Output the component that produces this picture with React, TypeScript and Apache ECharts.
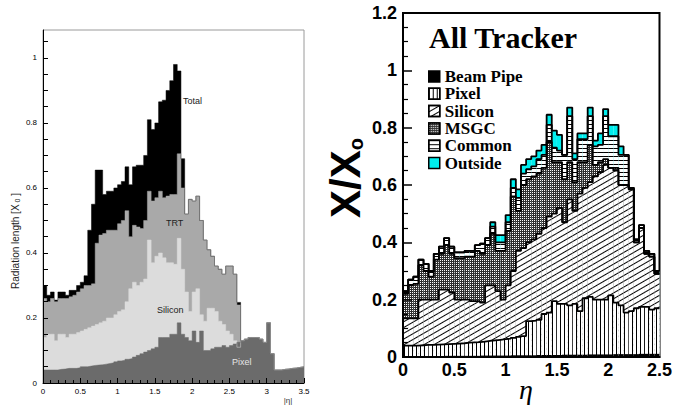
import React, { useEffect, useRef } from "react";
import * as echarts from "echarts";

// ---------------- Left panel, 70 bins of 0.05 in |eta| from 0 to 3.5 (cumulative tops)
const leftPixel = [
  0.040, 0.040, 0.040, 0.040, 0.042, 0.043, 0.045, 0.045, 0.045, 0.047,
  0.050, 0.050, 0.052, 0.054, 0.055, 0.056, 0.058, 0.060, 0.062, 0.065,
  0.068, 0.070, 0.073, 0.075, 0.080, 0.085, 0.090, 0.095, 0.100, 0.105,
  0.110, 0.140, 0.140, 0.140, 0.150, 0.150, 0.185, 0.150, 0.140, 0.130,
  0.160, 0.125, 0.160, 0.100, 0.100, 0.105, 0.110, 0.110, 0.115, 0.110,
  0.115, 0.120, 0.125, 0.130, 0.135, 0.140, 0.140, 0.140, 0.135, 0.125,
  0.185, 0.090, 0.040, 0.040, 0.042, 0.043, 0.045, 0.046, 0.048, 0.050,
];
const leftSilicon = [
  0.140, 0.150, 0.150, 0.130, 0.150, 0.150, 0.140, 0.150, 0.150, 0.155,
  0.160, 0.165, 0.170, 0.175, 0.180, 0.185, 0.190, 0.200, 0.200, 0.210,
  0.220, 0.225, 0.250, 0.290, 0.310, 0.300, 0.310, 0.320, 0.440, 0.370,
  0.390, 0.400, 0.385, 0.370, 0.370, 0.365, 0.445, 0.350, 0.280, 0.220,
  0.280, 0.290, 0.210, 0.190, 0.230, 0.230, 0.220, 0.190, 0.180, 0.160,
  0.150, 0.130, 0.110, 0.130, 0.135, 0.140, 0.140, 0.140, 0.135, 0.125,
  0.185, 0.090, 0.040, 0.040, 0.042, 0.043, 0.045, 0.046, 0.048, 0.050,
];
const leftTRT = [
  0.260, 0.250, 0.260, 0.250, 0.260, 0.260, 0.260, 0.265, 0.270, 0.280,
  0.290, 0.300, 0.300, 0.305, 0.430, 0.455, 0.460, 0.470, 0.470, 0.470,
  0.490, 0.500, 0.530, 0.450, 0.485, 0.480, 0.475, 0.500, 0.590, 0.560,
  0.570, 0.590, 0.570, 0.575, 0.580, 0.580, 0.705, 0.600, 0.520, 0.565,
  0.560, 0.575, 0.500, 0.440, 0.410, 0.390, 0.360, 0.350, 0.335, 0.360,
  0.360, 0.335, 0.240, 0.130, 0.135, 0.140, 0.140, 0.140, 0.135, 0.125,
  0.185, 0.090, 0.040, 0.040, 0.042, 0.043, 0.045, 0.046, 0.048, 0.050,
];
const leftTotal = [
  0.300, 0.270, 0.280, 0.255, 0.280, 0.280, 0.270, 0.285, 0.285, 0.300,
  0.310, 0.330, 0.470, 0.550, 0.655, 0.655, 0.580, 0.590, 0.590, 0.600,
  0.610, 0.620, 0.665, 0.610, 0.665, 0.670, 0.670, 0.700, 0.810, 0.780,
  0.800, 0.865, 0.870, 0.900, 0.930, 0.980, 0.960, 0.690, 0.520, 0.565,
  0.560, 0.575, 0.500, 0.440, 0.410, 0.390, 0.360, 0.350, 0.335, 0.360,
  0.360, 0.335, 0.248, 0.130, 0.135, 0.140, 0.140, 0.140, 0.135, 0.125,
  0.185, 0.090, 0.040, 0.040, 0.042, 0.043, 0.045, 0.046, 0.048, 0.050,
];

// ---------------- Right panel, 50 bins of 0.05 in eta from 0 to 2.5 (cumulative tops)
const rPipe = [
  0.003, 0.003, 0.003, 0.003, 0.003, 0.003, 0.003, 0.003, 0.004, 0.004,
  0.004, 0.004, 0.004, 0.004, 0.004, 0.005, 0.005, 0.005, 0.005, 0.005,
  0.005, 0.006, 0.006, 0.006, 0.006, 0.006, 0.007, 0.007, 0.007, 0.007,
  0.007, 0.008, 0.008, 0.008, 0.008, 0.008, 0.009, 0.009, 0.009, 0.009,
  0.009, 0.010, 0.010, 0.010, 0.010, 0.010, 0.011, 0.011, 0.011, 0.011,
];
const rPixel = [
  0.040, 0.040, 0.040, 0.041, 0.042, 0.042, 0.043, 0.044, 0.045, 0.046,
  0.047, 0.048, 0.050, 0.051, 0.052, 0.054, 0.056, 0.058, 0.060, 0.062,
  0.064, 0.067, 0.070, 0.073, 0.125, 0.127, 0.130, 0.150, 0.155, 0.195,
  0.185, 0.185, 0.180, 0.185, 0.160, 0.205, 0.210, 0.200, 0.200, 0.200,
  0.215, 0.190, 0.180, 0.155, 0.160, 0.170, 0.175, 0.175, 0.165, 0.170,
];
const rSilicon = [
  0.135, 0.135, 0.135, 0.200, 0.200, 0.200, 0.200, 0.235, 0.235, 0.225,
  0.200, 0.200, 0.200, 0.195, 0.195, 0.190, 0.250, 0.250, 0.230, 0.200,
  0.250, 0.300, 0.370, 0.380, 0.400, 0.410, 0.430, 0.450, 0.490, 0.500,
  0.520, 0.470, 0.550, 0.510, 0.570, 0.590, 0.610, 0.630, 0.645, 0.670,
  0.660, 0.650, 0.600, 0.600, 0.585, 0.400, 0.450, 0.360, 0.350, 0.290,
];
const rMsgc = [
  0.220, 0.250, 0.255, 0.320, 0.300, 0.280, 0.340, 0.360, 0.390, 0.360,
  0.345, 0.345, 0.350, 0.350, 0.370, 0.360, 0.390, 0.430, 0.370, 0.370,
  0.440, 0.560, 0.510, 0.600, 0.620, 0.630, 0.640, 0.660, 0.750, 0.680,
  0.680, 0.620, 0.680, 0.610, 0.680, 0.680, 0.740, 0.670, 0.680, 0.690,
  0.660, 0.660, 0.600, 0.600, 0.585, 0.400, 0.450, 0.360, 0.350, 0.290,
];
const rCommon = [
  0.230, 0.270, 0.280, 0.340, 0.325, 0.300, 0.360, 0.385, 0.415, 0.385,
  0.365, 0.365, 0.370, 0.370, 0.390, 0.395, 0.415, 0.455, 0.400, 0.400,
  0.470, 0.590, 0.555, 0.640, 0.655, 0.665, 0.690, 0.705, 0.810, 0.730,
  0.720, 0.705, 0.840, 0.690, 0.760, 0.760, 0.840, 0.735, 0.740, 0.840,
  0.770, 0.770, 0.705, 0.705, 0.590, 0.410, 0.460, 0.370, 0.360, 0.300,
];
const rTotal = [
  0.230, 0.270, 0.280, 0.340, 0.325, 0.300, 0.360, 0.385, 0.415, 0.385,
  0.365, 0.365, 0.370, 0.370, 0.390, 0.395, 0.415, 0.470, 0.425, 0.425,
  0.495, 0.620, 0.585, 0.670, 0.690, 0.700, 0.720, 0.740, 0.845, 0.790,
  0.775, 0.705, 0.870, 0.710, 0.780, 0.780, 0.870, 0.755, 0.780, 0.865,
  0.810, 0.810, 0.735, 0.705, 0.590, 0.410, 0.460, 0.370, 0.360, 0.300,
];

const leftTicks = ["0", "0.5", "1", "1.5", "2", "2.5", "3", "3.5"];
const BIN = 0.05;
const leftEdges = leftTotal.map((_, i) => +(i * BIN).toFixed(2));
const rEdges = rTotal.map((_, i) => +(i * BIN).toFixed(2));

const stepData = (edges: number[], vals: number[], end: number) => [
  ...vals.map((v, i) => [edges[i], v]),
  [end, vals[vals.length - 1]],
];

const SERIF = "Liberation Serif";
const SANS = "Liberation Sans";

function buildOption(): any {
  const leftArea = (name: string, data: number[], color: string) => ({
    type: "line",
    name,
    xAxisIndex: 0,
    yAxisIndex: 0,
    step: "end",
    symbol: "none",
    silent: true,
    z: 2,
    lineStyle: { color, width: 0.5 },
    areaStyle: { color, opacity: 1 },
    data: stepData(leftEdges, data, 3.5),
  });
  const rightBar = (name: string, data: number[], color: string, decal?: any) => ({
    type: "bar",
    name,
    xAxisIndex: 1,
    yAxisIndex: 1,
    data,
    barGap: "-100%",
    barCategoryGap: "0%",
    silent: true,
    itemStyle: decal ? { color, decal } : { color },
  });
  const outline = (name: string, vals: number[]) => ({
    type: "line",
    name,
    xAxisIndex: 2,
    yAxisIndex: 1,
    step: "end",
    symbol: "none",
    silent: true,
    z: 4,
    lineStyle: { color: "#000", width: 1.8 },
    data: stepData(rEdges, vals, 2.5),
  });

  const pixelDecal = { symbol: "rect", symbolSize: 1, dashArrayX: [1, 3], dashArrayY: [4, 0], color: "#000" };
  const siliconDecal = { symbol: "rect", symbolSize: 1, dashArrayX: [4, 0], dashArrayY: [1, 3.5], rotation: -Math.PI / 6, color: "#000" };
  const msgcDecal = { symbol: "rect", symbolSize: 1, dashArrayX: [1, 1], dashArrayY: [1, 1], color: "#ffffff" };
  const commonDecal = { symbol: "rect", symbolSize: 1, dashArrayX: [4, 0], dashArrayY: [1, 2.4], color: "#000" };

  const two = (v: number) => Math.abs(v / 0.2 - Math.round(v / 0.2)) < 1e-6;

  return {
    animation: false,
    backgroundColor: "#fff",
    grid: [
      { left: 43, top: 30, width: 261, height: 353, show: true, borderColor: "#9a9a9a", borderWidth: 1 },
      { left: 403, top: 13, width: 258, height: 344, show: true, borderColor: "#000", borderWidth: 2 },
    ],
    xAxis: [
      {
        type: "value", gridIndex: 0, position: "bottom", min: 0, max: 3.5, interval: 0.5, z: 10,
        axisLine: { show: true, onZero: false, lineStyle: { color: "#000", width: 1 } },
        axisTick: { show: true, inside: true, length: 5, lineStyle: { color: "#000" } },
        minorTick: { show: true, splitNumber: 5, length: 3, lineStyle: { color: "#000" } },
        splitLine: { show: false },
        axisLabel: {
          fontFamily: SANS, fontSize: 8, color: "#000", margin: 4,
          formatter: (v: number) => leftTicks[Math.round(v / 0.5)] ?? "",
        },
      },
      { type: "category", gridIndex: 1, data: rEdges.map(String), show: false, boundaryGap: true },
      {
        type: "value", gridIndex: 1, position: "bottom", min: 0, max: 2.5, interval: 0.5, z: 10,
        axisLine: { show: true, onZero: false, lineStyle: { color: "#000", width: 2 } },
        axisTick: { show: false },
        splitLine: { show: false },
        axisLabel: {
          fontFamily: SANS, fontWeight: "bold", fontSize: 18, color: "#000", margin: 4,
          formatter: (v: number) => String(+v.toFixed(1)),
        },
      },
    ],
    yAxis: [
      {
        type: "value", gridIndex: 0, min: 0, max: 1.086, interval: 0.05, z: 10,
        axisLine: { show: true, onZero: false, lineStyle: { color: "#000", width: 1 } },
        axisTick: { show: true, inside: true, length: 5, lineStyle: { color: "#000" } },
        splitLine: { show: false },
        axisLabel: {
          fontFamily: SANS, fontSize: 8, color: "#000", margin: 6, showMaxLabel: false,
          formatter: (v: number) => (two(v) ? String(+v.toFixed(1)) : ""),
        },
      },
      {
        type: "value", gridIndex: 1, min: 0, max: 1.2, interval: 0.2, z: 10,
        axisLine: { show: true, onZero: false, lineStyle: { color: "#000", width: 2 } },
        axisTick: { show: true, inside: true, length: 9, lineStyle: { color: "#000", width: 1.5 } },
        minorTick: { show: true, splitNumber: 4, length: 5, lineStyle: { color: "#000", width: 1.2 } },
        splitLine: { show: false },
        axisLabel: {
          fontFamily: SANS, fontWeight: "bold", fontSize: 18, color: "#000", margin: 6,
          formatter: (v: number) => String(+v.toFixed(1)),
        },
      },
    ],
    legend: {
      data: ["Beam Pipe", "Pixel", "Silicon", "MSGC", "Common", "Outside"],
      orient: "vertical",
      left: 428,
      top: 68,
      itemWidth: 11,
      itemHeight: 11,
      itemGap: 0.3,
      icon: "rect",
      selectedMode: false,
      padding: 0,
      itemStyle: { borderColor: "#000", borderWidth: 1.5 },
      textStyle: { fontFamily: SERIF, fontWeight: "bold", fontSize: 17, color: "#000" },
    },
    series: [
      leftArea("Total", leftTotal, "#000000"),
      leftArea("TRT", leftTRT, "#a9a9a9"),
      leftArea("Silicon (ID)", leftSilicon, "#dcdcdc"),
      leftArea("Pixel (ID)", leftPixel, "#6b6b6b"),

      rightBar("Outside", rTotal, "#00eeee"),
      rightBar("Common", rCommon, "#ffffff", commonDecal),
      rightBar("MSGC", rMsgc, "#2e2e2e", msgcDecal),
      rightBar("Silicon", rSilicon, "#ffffff", siliconDecal),
      rightBar("Pixel", rPixel, "#ffffff", pixelDecal),
      rightBar("Beam Pipe", rPipe, "#000000"),

      outline("_total", rTotal),
      outline("_common", rCommon),
      outline("_msgc", rMsgc),
      outline("_silicon", rSilicon),
      outline("_pixel", rPixel),
    ],
    graphic: [
      { type: "text", left: 183, top: 96, z: 20, style: { text: "Total", font: `9px ${SANS}`, fill: "#222" } },
      { type: "text", left: 166, top: 218, z: 20, style: { text: "TRT", font: `9px ${SANS}`, fill: "#222" } },
      { type: "text", left: 157, top: 305, z: 20, style: { text: "Silicon", font: `9px ${SANS}`, fill: "#222" } },
      { type: "text", left: 232, top: 357, z: 20, style: { text: "Pixel", font: `9px ${SANS}`, fill: "#e6e6e6" } },
      {
        type: "text", x: 15, y: 241, rotation: Math.PI / 2, z: 20,
        style: {
          text: "{a|Radiation length [X}{b| 0}{a| ]}",
          align: "center", verticalAlign: "middle",
          rich: {
            a: { fontFamily: SANS, fontSize: 10, fill: "#222" },
            b: { fontFamily: SANS, fontSize: 7, fill: "#222", verticalAlign: "bottom", padding: [4, 0, 0, 0] },
          },
        },
      },
      { type: "text", x: 288, y: 400, z: 20, style: { text: "|η|", font: `8px ${SANS}`, fill: "#333", align: "center", verticalAlign: "middle" } },

      { type: "text", x: 429, y: 37.5, z: 20, style: { text: "All Tracker", font: `bold 30px ${SERIF}`, fill: "#000", verticalAlign: "middle" } },
      {
        type: "text", x: 345, y: 178, rotation: Math.PI / 2, z: 20,
        style: {
          text: "{a|X/X}{b|o}",
          align: "center", verticalAlign: "middle",
          rich: {
            a: { fontFamily: SANS, fontWeight: "bold", fontSize: 42, fill: "#000" },
            b: { fontFamily: SANS, fontWeight: "bold", fontSize: 20, fill: "#000", verticalAlign: "bottom", padding: [12, 0, 0, 0] },
          },
        },
      },
      { type: "text", x: 526, y: 389, z: 20, style: { text: "η", font: `italic 28px ${SERIF}`, fill: "#000", align: "center", verticalAlign: "middle" } },
    ],
  };
}

export default function App() {
  const ref = useRef<HTMLDivElement>(null);
  useEffect(() => {
    document.body.style.margin = "0";
    if (!ref.current) return;
    const chart = echarts.init(ref.current, null, { renderer: "svg" });
    chart.setOption(buildOption());
    return () => chart.dispose();
  }, []);
  return <div ref={ref} style={{ width: 675, height: 407 }} />;
}
